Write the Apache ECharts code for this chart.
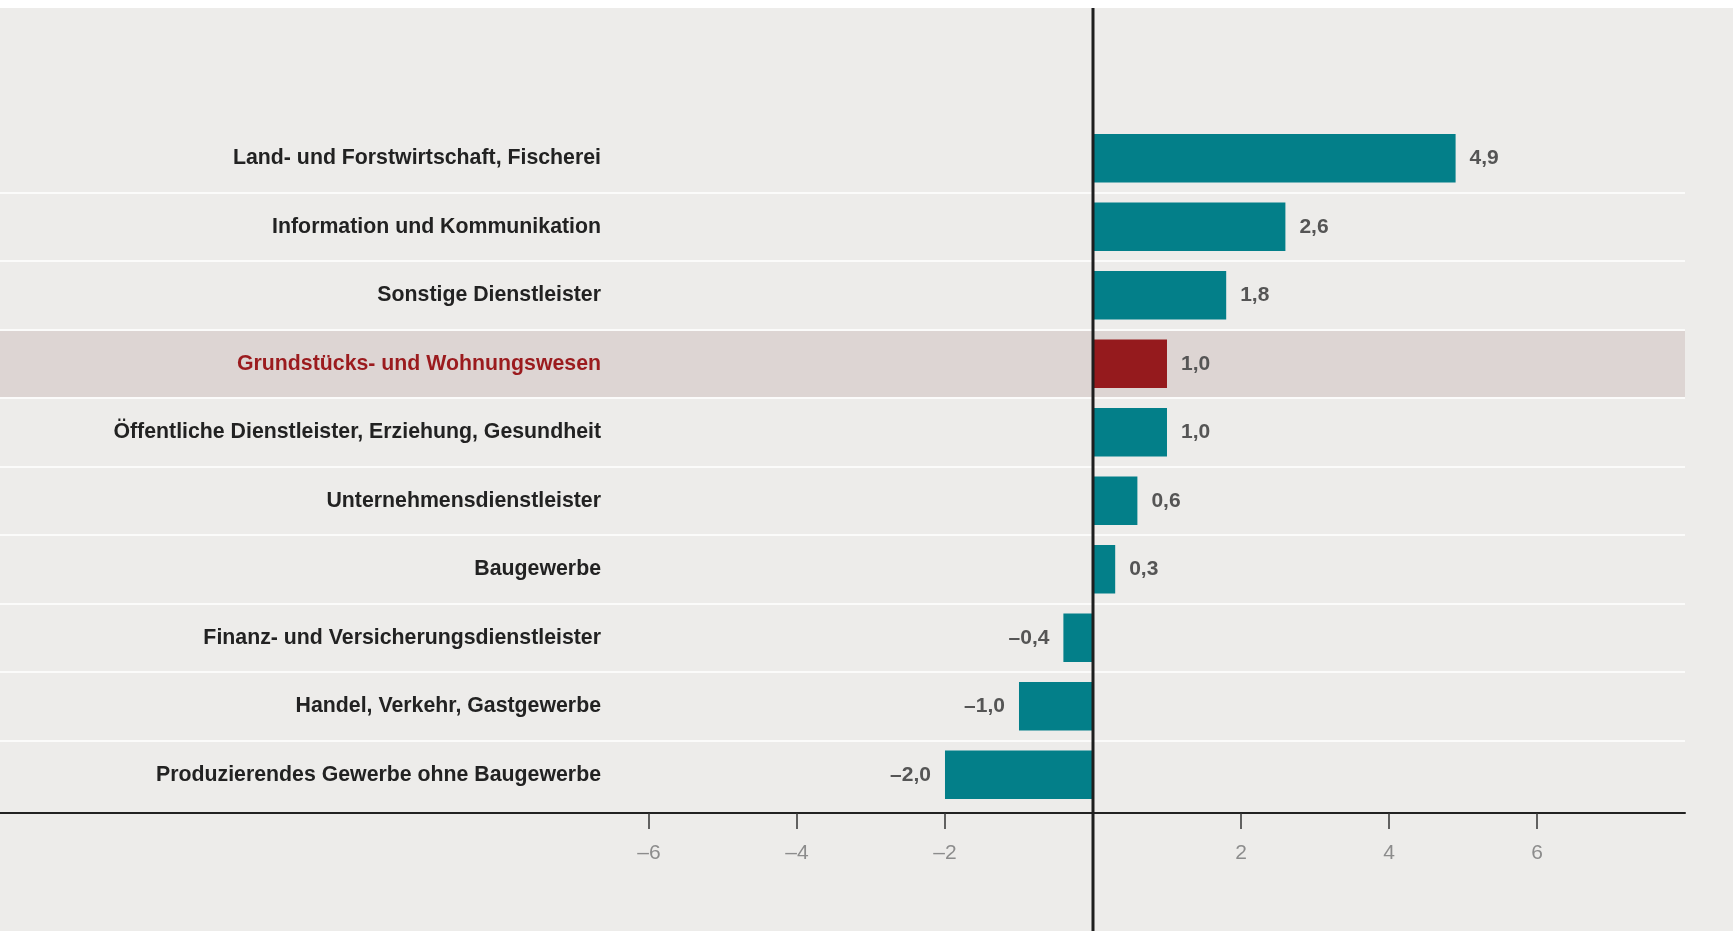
<!DOCTYPE html>
<html>
<head>
<meta charset="utf-8">
<script src="https://cdn.jsdelivr.net/npm/echarts@6/dist/echarts.min.js"></script>
<style>
  html, body { margin: 0; padding: 0; background: #ffffff; }
  #chart { position: absolute; left: 0; top: 8px; width: 1733px; height: 923px; background: #edecea; }
</style>
</head>
<body>
<div id="chart"></div>
<script>
const categories = [
  'Land- und Forstwirtschaft, Fischerei',
  'Information und Kommunikation',
  'Sonstige Dienstleister',
  'Grundstücks- und Wohnungswesen',
  'Öffentliche Dienstleister, Erziehung, Gesundheit',
  'Unternehmensdienstleister',
  'Baugewerbe',
  'Finanz- und Versicherungsdienstleister',
  'Handel, Verkehr, Gastgewerbe',
  'Produzierendes Gewerbe ohne Baugewerbe'
];
const values = [4.9, 2.6, 1.8, 1.0, 1.0, 0.6, 0.3, -0.4, -1.0, -2.0];
const highlightCategory = 'Grundstücks- und Wohnungswesen';
const tickValues = [-6, -4, -2, 2, 4, 6];

const X_MIN = -14.77, X_MAX = 8;
const FONT = '"Liberation Sans", Arial, Helvetica, sans-serif';
const TEAL = '#037f89', RED = '#951a1d', RED_TEXT = '#9b1b1e', BAND = '#ddd5d3';

const fmt = v => (v < 0 ? '\u2013' : '') + Math.abs(v).toFixed(1).replace('.', ',');

const chart = echarts.init(document.getElementById('chart'), null, { renderer: 'canvas' });

const option = {
  animation: false,
  backgroundColor: 'transparent',
  grid: { left: 0, right: 48, top: 116, bottom: 122, containLabel: false },
  xAxis: {
    type: 'value',
    min: X_MIN,
    max: X_MAX,
    position: 'bottom',
    offset: 4,
    splitLine: { show: false },
    axisLine: { show: true, onZero: false, lineStyle: { color: '#222', width: 2 } },
    axisTick: { show: true, customValues: tickValues, length: 16, lineStyle: { color: '#333', width: 1.5 } },
    axisLabel: {
      show: true, customValues: tickValues, margin: 30,
      color: '#8c8c8c', fontSize: 21, fontFamily: FONT,
      formatter: v => (v < 0 ? '\u2013' : '') + Math.abs(v)
    }
  },
  yAxis: {
    type: 'category',
    inverse: true,
    z: 10,
    data: categories.map(c => c === highlightCategory
      ? { value: c, textStyle: { color: RED_TEXT } }
      : c),
    axisLine: { show: false },
    axisTick: { show: false },
    splitLine: { show: true, showMinLine: false, showMaxLine: false, lineStyle: { color: '#fbfbfa', width: 2 } },
    axisLabel: {
      margin: -601, align: 'right', padding: [4, 0, 0, 0],
      color: '#222', fontSize: 21.3, fontWeight: 'bold', fontFamily: FONT
    }
  },
  series: [
    {
      type: 'custom',
      z: 1,
      silent: true,
      encode: { x: 0, y: 1 },
      data: [[0, highlightCategory]],
      renderItem: (params, api) => {
        const yIdx = api.value(1);
        const l = api.coord([X_MIN, yIdx]);
        const r = api.coord([X_MAX, yIdx]);
        const h = api.size([0, 1])[1];
        return {
          type: 'rect',
          shape: { x: l[0], y: l[1] - h / 2 + 1, width: r[0] - l[0], height: h - 2 },
          style: { fill: BAND }
        };
      }
    },
    {
      type: 'bar',
      z: 3,
      barWidth: '71%',
      data: values.map((v, i) => ({
        value: v,
        itemStyle: { color: categories[i] === highlightCategory ? RED : TEAL },
        label: { position: v < 0 ? 'left' : 'right' }
      })),
      label: {
        show: true, distance: 14, padding: [4, 0, 0, 0],
        color: '#555', fontSize: 21, fontWeight: 'bold', fontFamily: FONT,
        formatter: p => fmt(p.value)
      }
    }
  ]
};
chart.setOption(option);

const x0 = chart.convertToPixel({ xAxisIndex: 0 }, 0);
chart.setOption({
  graphic: [{
    type: 'line', z: 100, silent: true,
    shape: { x1: x0, y1: 0, x2: x0, y2: 923 },
    style: { stroke: '#1e1e1e', lineWidth: 3 }
  }]
});
</script>
</body>
</html>
